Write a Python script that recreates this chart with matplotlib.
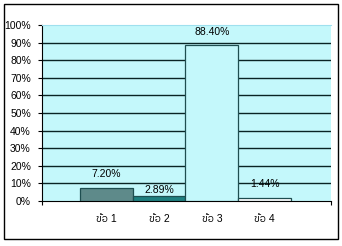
import matplotlib
matplotlib.use("Agg")
import matplotlib.pyplot as plt
from matplotlib.patches import Rectangle

categories = ["ข้อ 1", "ข้อ 2", "ข้อ 3", "ข้อ 4"]
values = [7.20, 2.89, 88.40, 1.44]
value_labels = ["7.20%", "2.89%", "88.40%", "1.44%"]
yticks = [0, 10, 20, 30, 40, 50, 60, 70, 80, 90, 100]
ytick_labels = [f"{t}%" for t in yticks]

plt.rcParams["font.family"] = ["Liberation Sans", "IBM Plex Sans Thai", "DejaVu Sans"]

fig = plt.figure(figsize=(3.42, 2.46), dpi=100)
fig.patches.append(Rectangle((4/342, 1-239/246), 334/342, 235/246, transform=fig.transFigure,
                             fill=False, edgecolor="black", linewidth=1.0))
ax = fig.add_axes([42/342, 1-201/246, (331-42)/342, (201-25)/246])
ax.set_facecolor("#C4F8FB")
colors = ["#5E8A8A", "#1F8080", "#C4F8FB", "#FFFFFF"]
label_offsets_px = [14, 6, 13, 14]
x = list(range(len(values)))
ax.bar(x, values, width=1.0, color=colors, edgecolor="#1E4E50", linewidth=0.9, zorder=3)
ax.set_ylim(0, 100)
xlim = (-0.5 - 0.72, 3.5 + 0.76)
ax.set_xlim(*xlim)
ax.set_yticks(yticks)
ax.set_yticklabels(ytick_labels, fontsize=7.5)
for t in yticks[1:-1]:
    ax.axhline(t, color="#0A2424", linewidth=1.0, zorder=1)
ax.set_xticks(x)
ax.set_xticklabels(categories, fontsize=7.5)
ax.tick_params(axis="x", length=0, pad=9)
ax.set_xticks(list(xlim), minor=True)
ax.tick_params(axis="x", which="minor", length=3, width=0.8)
ax.spines["right"].set_visible(False)
ax.spines["top"].set_color("#9FE0EE")
ax.spines["left"].set_color("black")
ax.spines["bottom"].set_color("black")
ax.tick_params(axis="y", length=3, width=0.8, pad=5)
for xi, v, lab, off in zip(x, values, value_labels, label_offsets_px):
    ax.annotate(lab, (xi, v), xytext=(0, off * 0.72), textcoords="offset points",
                ha="center", va="center", fontsize=7.5, zorder=4)
fig.savefig("out.png", dpi=100)
